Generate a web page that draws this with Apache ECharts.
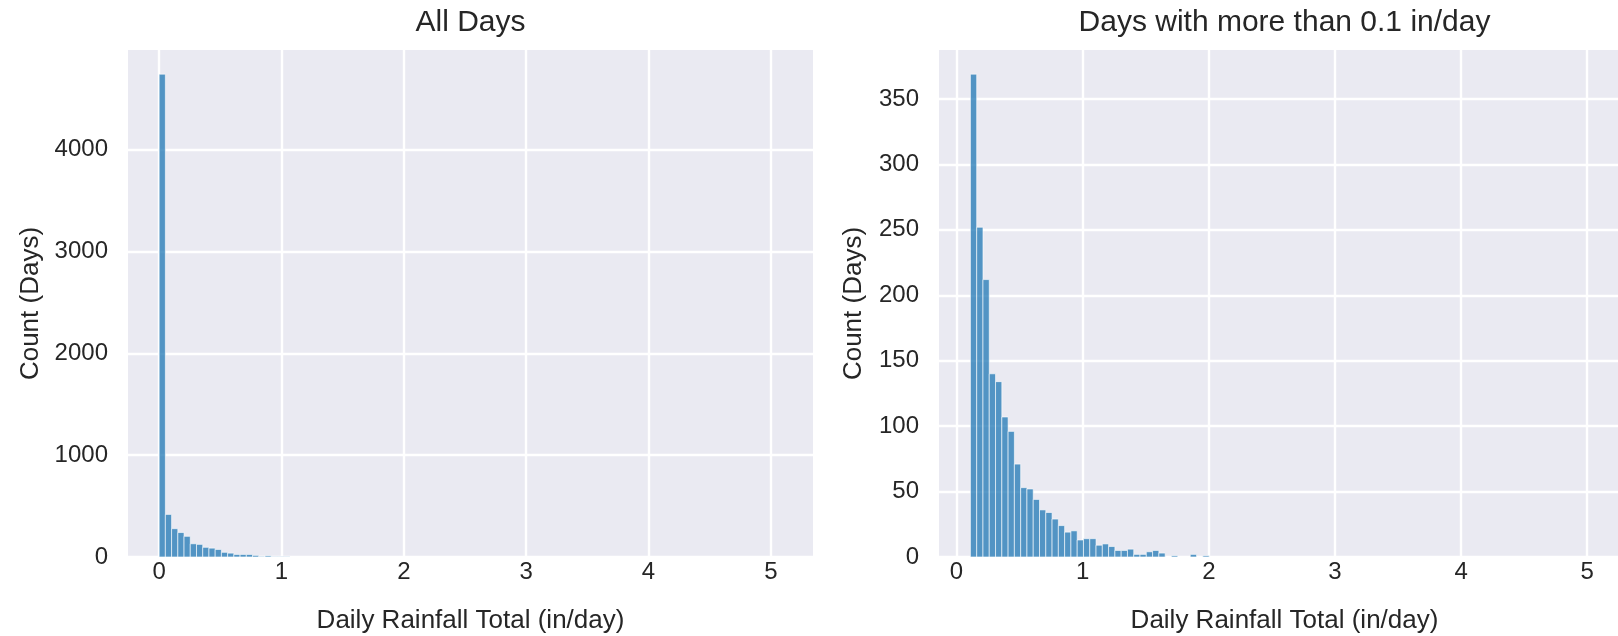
<!DOCTYPE html>
<html>
<head>
<meta charset="utf-8">
<script src="https://cdn.jsdelivr.net/npm/echarts@6/dist/echarts.min.js"></script>
<style>
  html, body { margin: 0; padding: 0; background: #fff; }
  #histCont { width: 1618px; height: 636px; }
</style>
</head>
<body>
<div id="histCont"></div>
<script>
// bin layout: 100 equal bins between the data min and max
var allDaysLo = 0, allDaysHi = 5.09;
var wetDaysLo = 0.11, wetDaysHi = 5.09;
var binCount = 100;

// counts per bin (bins after the last listed one are empty)
var allDaysCounts = [4740, 418, 278, 240, 203, 130, 124, 95, 87, 74, 46, 38, 25, 25, 25, 16, 6, 12, 4, 4, 4];
var wetDaysCounts = [369, 252, 212, 140, 134, 107, 96, 71, 53, 52, 44, 36, 34, 29, 24, 19, 20, 13, 14, 14,
                     9, 10, 8, 5, 5, 6, 2, 2, 4, 5, 3, 0, 1, 0, 0, 2, 0, 1];

var xTicks = [0, 1, 2, 3, 4, 5];
var allDaysYTicks = [0, 1000, 2000, 3000, 4000];
var wetDaysYTicks = [0, 50, 100, 150, 200, 250, 300, 350];

var titles = ['All Days', 'Days with more than 0.1 in/day'];
var xName = 'Daily Rainfall Total (in/day)';
var yName = 'Count (Days)';

var font = "'Liberation Sans', Arial, Helvetica, sans-serif";
var ink = '#262626';

window.onload = function() {
    setHist();
};

function toBins(lo, hi, counts) {
    var w = (hi - lo) / binCount;
    var out = [];
    for (var i = 0; i < counts.length; i++) {
        if (counts[i] > 0) out.push([lo + i * w, lo + (i + 1) * w, counts[i]]);
    }
    return out;
}

function renderBin(params, api) {
    var p0 = api.coord([api.value(0), api.value(2)]);
    var p1 = api.coord([api.value(1), 0]);
    return {
        type: 'rect',
        shape: { x: p0[0], y: p0[1], width: p1[0] - p0[0], height: p1[1] - p0[1] },
        style: { fill: 'rgba(31,119,180,0.75)', stroke: 'rgba(255,255,255,0.75)', lineWidth: 0.8 }
    };
}

function xAxisOf(idx, lo, hi) {
    var pad = (hi - lo) * 0.05;
    return {
        gridIndex: idx,
        type: 'value',
        min: lo - pad,
        max: hi + pad,
        splitNumber: 6,
        name: xName,
        nameLocation: 'middle',
        nameGap: 51,
        nameTextStyle: { color: ink, fontSize: 26, fontFamily: font },
        axisLine: { show: false },
        axisTick: { show: false },
        axisLabel: {
            color: ink, fontSize: 24, fontFamily: font, margin: 3,
            customValues: xTicks
        },
        splitLine: {
            show: true, showMinLine: false, showMaxLine: false,
            lineStyle: { color: '#fff', width: 2.4 }
        }
    };
}

function yAxisOf(idx, counts, ticks, gap) {
    return {
        gridIndex: idx,
        type: 'value',
        min: 0,
        max: Math.max.apply(null, counts) * 1.05,
        interval: ticks[1] - ticks[0],
        name: yName,
        nameLocation: 'middle',
        nameGap: gap,
        nameTextStyle: { color: ink, fontSize: 26, fontFamily: font },
        axisLine: { show: false },
        axisTick: { show: false },
        axisLabel: {
            color: ink, fontSize: 24, fontFamily: font, margin: 20,
            showMaxLabel: false,
            formatter: function(v) { return String(v); }
        },
        splitLine: {
            show: true, showMaxLine: false,
            lineStyle: { color: '#fff', width: 2.4 }
        }
    };
}

function setHist() {
    var ec = echarts.init(document.getElementById('histCont'));
    ec.setOption({
        animation: false,
        backgroundColor: '#fff',
        title: [{
            text: titles[0], left: 470.5, top: 8, padding: 0, textAlign: 'center',
            textStyle: { color: ink, fontSize: 30, fontWeight: 'normal', fontFamily: font }
        }, {
            text: titles[1], left: 1284.5, top: 8, padding: 0, textAlign: 'center',
            textStyle: { color: ink, fontSize: 30, fontWeight: 'normal', fontFamily: font }
        }],
        grid: [
            { left: 128, top: 50, width: 685, height: 507, outerBoundsMode: 'none',
              show: true, backgroundColor: '#EAEAF2', borderWidth: 0 },
            { left: 939, top: 50, width: 691, height: 507, outerBoundsMode: 'none',
              show: true, backgroundColor: '#EAEAF2', borderWidth: 0 }
        ],
        xAxis: [xAxisOf(0, allDaysLo, allDaysHi), xAxisOf(1, wetDaysLo, wetDaysHi)],
        yAxis: [yAxisOf(0, allDaysCounts, allDaysYTicks, 84), yAxisOf(1, wetDaysCounts, wetDaysYTicks, 72)],
        series: [{
            type: 'custom',
            xAxisIndex: 0, yAxisIndex: 0,
            renderItem: renderBin,
            encode: { x: [0, 1], y: 2 },
            data: toBins(allDaysLo, allDaysHi, allDaysCounts)
        }, {
            type: 'custom',
            xAxisIndex: 1, yAxisIndex: 1,
            renderItem: renderBin,
            encode: { x: [0, 1], y: 2 },
            data: toBins(wetDaysLo, wetDaysHi, wetDaysCounts)
        }]
    });
}
</script>
</body>
</html>
